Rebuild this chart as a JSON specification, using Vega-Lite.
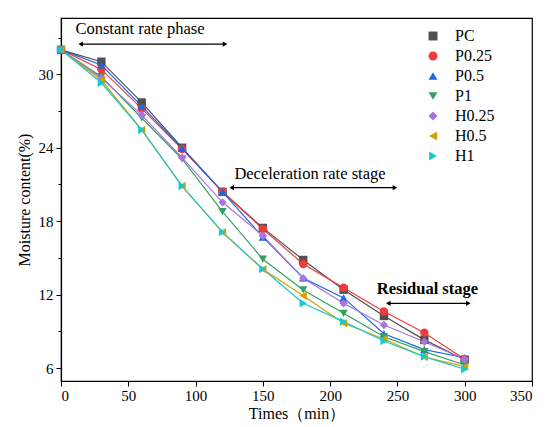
{
  "$schema": "https://vega.github.io/schema/vega-lite/v6.json",
  "width": 471,
  "height": 363,
  "autosize": {"type": "none"},
  "padding": {"left": 61, "top": 18, "right": 14, "bottom": 46},
  "config": {
    "font": "Liberation Serif",
    "view": {"stroke": "black", "strokeWidth": 1.2},
    "axis": {"domainColor": "black", "tickColor": "black", "labelColor": "black", "titleColor": "black", "labelFontSize": 15, "titleFontSize": 16, "titleFontWeight": "normal", "grid": false, "domainWidth": 1.2, "tickWidth": 1},
    "legend": {"labelFontSize": 16, "labelColor": "black"}
  },
  "datasets": {
    "series": [
      {"s": "PC", "t": 0, "m": 32.0}, {"s": "PC", "t": 30, "m": 31.03}, {"s": "PC", "t": 60, "m": 27.7}, {"s": "PC", "t": 90, "m": 24.0}, {"s": "PC", "t": 120, "m": 20.4}, {"s": "PC", "t": 150, "m": 17.45}, {"s": "PC", "t": 180, "m": 14.83}, {"s": "PC", "t": 210, "m": 12.4}, {"s": "PC", "t": 240, "m": 10.25}, {"s": "PC", "t": 270, "m": 8.3}, {"s": "PC", "t": 300, "m": 6.68},
      {"s": "P0.25", "t": 0, "m": 32.0}, {"s": "P0.25", "t": 30, "m": 30.4}, {"s": "P0.25", "t": 60, "m": 27.2}, {"s": "P0.25", "t": 90, "m": 23.9}, {"s": "P0.25", "t": 120, "m": 20.4}, {"s": "P0.25", "t": 150, "m": 17.36}, {"s": "P0.25", "t": 180, "m": 14.5}, {"s": "P0.25", "t": 210, "m": 12.56}, {"s": "P0.25", "t": 240, "m": 10.62}, {"s": "P0.25", "t": 270, "m": 8.89}, {"s": "P0.25", "t": 300, "m": 6.72},
      {"s": "P0.5", "t": 0, "m": 32.0}, {"s": "P0.5", "t": 30, "m": 30.76}, {"s": "P0.5", "t": 60, "m": 27.4}, {"s": "P0.5", "t": 90, "m": 23.95}, {"s": "P0.5", "t": 120, "m": 20.4}, {"s": "P0.5", "t": 150, "m": 16.7}, {"s": "P0.5", "t": 180, "m": 13.36}, {"s": "P0.5", "t": 210, "m": 11.73}, {"s": "P0.5", "t": 240, "m": 8.8}, {"s": "P0.5", "t": 270, "m": 7.5}, {"s": "P0.5", "t": 300, "m": 6.84},
      {"s": "P1", "t": 0, "m": 32.0}, {"s": "P1", "t": 30, "m": 29.8}, {"s": "P1", "t": 60, "m": 26.43}, {"s": "P1", "t": 90, "m": 23.08}, {"s": "P1", "t": 120, "m": 18.77}, {"s": "P1", "t": 150, "m": 14.89}, {"s": "P1", "t": 180, "m": 12.38}, {"s": "P1", "t": 210, "m": 10.47}, {"s": "P1", "t": 240, "m": 8.56}, {"s": "P1", "t": 270, "m": 7.34}, {"s": "P1", "t": 300, "m": 6.25},
      {"s": "H0.25", "t": 0, "m": 32.0}, {"s": "H0.25", "t": 30, "m": 29.7}, {"s": "H0.25", "t": 60, "m": 26.67}, {"s": "H0.25", "t": 90, "m": 23.19}, {"s": "H0.25", "t": 120, "m": 19.54}, {"s": "H0.25", "t": 150, "m": 16.81}, {"s": "H0.25", "t": 180, "m": 13.33}, {"s": "H0.25", "t": 210, "m": 11.29}, {"s": "H0.25", "t": 240, "m": 9.52}, {"s": "H0.25", "t": 270, "m": 8.15}, {"s": "H0.25", "t": 300, "m": 6.72},
      {"s": "H0.5", "t": 0, "m": 32.0}, {"s": "H0.5", "t": 30, "m": 29.53}, {"s": "H0.5", "t": 60, "m": 25.45}, {"s": "H0.5", "t": 90, "m": 20.87}, {"s": "H0.5", "t": 120, "m": 17.09}, {"s": "H0.5", "t": 150, "m": 14.07}, {"s": "H0.5", "t": 180, "m": 11.91}, {"s": "H0.5", "t": 210, "m": 9.66}, {"s": "H0.5", "t": 240, "m": 8.37}, {"s": "H0.5", "t": 270, "m": 6.9}, {"s": "H0.5", "t": 300, "m": 6.11},
      {"s": "H1", "t": 0, "m": 32.0}, {"s": "H1", "t": 30, "m": 29.31}, {"s": "H1", "t": 60, "m": 25.45}, {"s": "H1", "t": 90, "m": 20.87}, {"s": "H1", "t": 120, "m": 17.1}, {"s": "H1", "t": 150, "m": 14.09}, {"s": "H1", "t": 180, "m": 11.29}, {"s": "H1", "t": 210, "m": 9.79}, {"s": "H1", "t": 240, "m": 8.21}, {"s": "H1", "t": 270, "m": 6.93}, {"s": "H1", "t": 300, "m": 5.9}
    ],
    "arrows": [
      {"a": 14.6, "b": 121.9, "y": 32.47},
      {"a": 126.8, "b": 248.2, "y": 20.74},
      {"a": 243.2, "b": 302.7, "y": 11.29}
    ],
    "notes": [
      {"label": "Constant rate phase", "t": 58.7, "m": 33.68},
      {"label": "Deceleration rate stage", "t": 185, "m": 21.85}
    ],
    "bold": [
      {"label": "Residual stage", "t": 272.3, "m": 12.46}
    ]
  },
  "layer": [
    {
      "data": {"name": "series"},
      "mark": {"type": "line", "strokeWidth": 1.2},
      "encoding": {
        "x": {"field": "t", "type": "quantitative", "scale": {"domain": [0, 350], "nice": false},
          "axis": {"title": "Times（min）", "values": [0,25,50,75,100,125,150,175,200,225,250,275,300,325,350], "labelExpr": "datum.value % 50 === 0 ? datum.label : ''", "tickSize": {"condition": {"test": "datum.value % 50 === 0", "value": 5}, "value": 3}, "labelPadding": 2, "titlePadding": 2}},
        "y": {"field": "m", "type": "quantitative", "scale": {"domain": [4.94, 34.6], "nice": false, "zero": false},
          "axis": {"title": "Moisture content(%)", "values": [6,9,12,15,18,21,24,27,30,33], "labelExpr": "datum.value % 6 === 0 ? datum.label : ''", "tickSize": {"condition": {"test": "datum.value % 6 === 0", "value": 5}, "value": 3}, "labelPadding": 3, "titlePadding": 6}},
        "color": {"field": "s", "type": "nominal", "sort": null,
          "scale": {"domain": ["PC", "P0.25", "P0.5", "P1", "H0.25", "H0.5", "H1"], "range": ["#505050", "#ef3b3b", "#1f66e0", "#33a060", "#ab72e0", "#d4a000", "#17c8d0"]},
          "legend": {"title": null, "orient": "none", "legendX": 364, "legendY": 10, "symbolSize": 80, "labelOffset": 14, "rowPadding": 4, "symbolStrokeWidth": 0}}
      }
    },
    {
      "data": {"name": "series"},
      "mark": {"type": "point", "filled": true, "size": 70, "opacity": 1},
      "encoding": {
        "x": {"field": "t", "type": "quantitative"},
        "y": {"field": "m", "type": "quantitative"},
        "color": {"field": "s", "type": "nominal", "sort": null},
        "shape": {"field": "s", "type": "nominal", "sort": null,
          "scale": {"domain": ["PC", "P0.25", "P0.5", "P1", "H0.25", "H0.5", "H1"], "range": ["square", "circle", "triangle-up", "triangle-down", "diamond", "triangle-left", "triangle-right"]},
          "legend": {"title": null, "orient": "none", "legendX": 364, "legendY": 10, "symbolSize": 80, "labelOffset": 14, "rowPadding": 4}}
      }
    },
    {
      "data": {"name": "arrows"},
      "mark": {"type": "rule", "color": "black", "strokeWidth": 1.2},
      "encoding": {"x": {"field": "a", "type": "quantitative"}, "x2": {"field": "b"}, "y": {"field": "y", "type": "quantitative"}}
    },
    {
      "data": {"name": "arrows"},
      "mark": {"type": "point", "shape": "triangle-left", "filled": true, "color": "black", "size": 28, "opacity": 1},
      "encoding": {"x": {"field": "a", "type": "quantitative"}, "y": {"field": "y", "type": "quantitative"}}
    },
    {
      "data": {"name": "arrows"},
      "mark": {"type": "point", "shape": "triangle-right", "filled": true, "color": "black", "size": 28, "opacity": 1},
      "encoding": {"x": {"field": "b", "type": "quantitative"}, "y": {"field": "y", "type": "quantitative"}}
    },
    {
      "data": {"name": "notes"},
      "mark": {"type": "text", "fontSize": 16.5, "color": "black", "align": "center", "baseline": "middle"},
      "encoding": {"x": {"field": "t", "type": "quantitative"}, "y": {"field": "m", "type": "quantitative"}, "text": {"field": "label"}}
    },
    {
      "data": {"name": "bold"},
      "mark": {"type": "text", "fontSize": 16.5, "fontWeight": "bold", "color": "black", "align": "center", "baseline": "middle"},
      "encoding": {"x": {"field": "t", "type": "quantitative"}, "y": {"field": "m", "type": "quantitative"}, "text": {"field": "label"}}
    }
  ]
}
